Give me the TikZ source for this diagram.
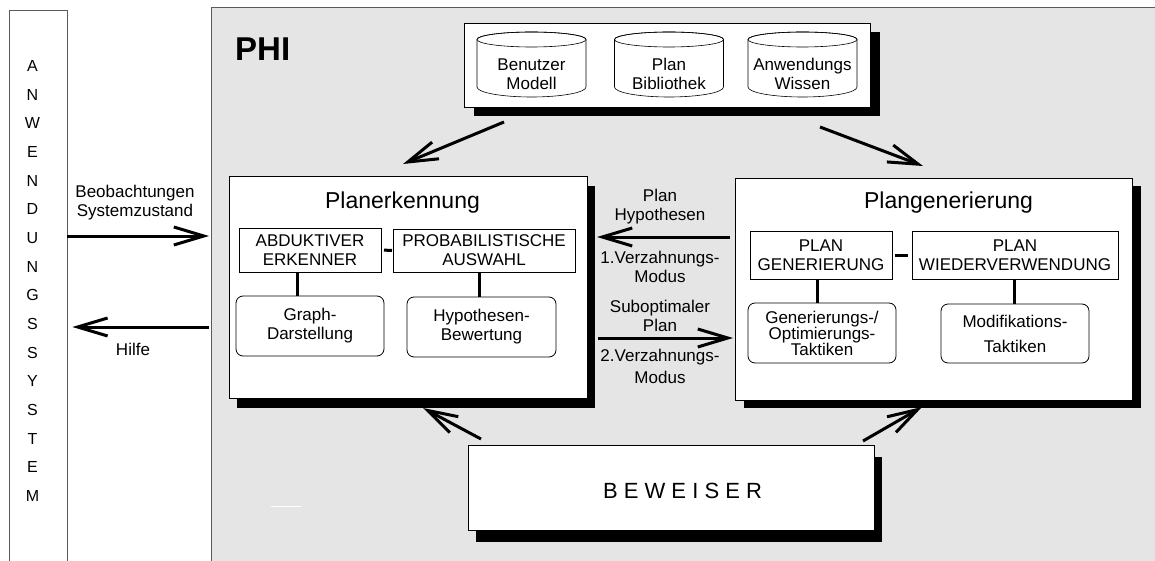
\documentclass[tikz,border=0pt]{standalone}
\usepackage{fontspec}
\setmainfont{Liberation Sans}
\usetikzlibrary{arrows.meta,calc,shadows}
\definecolor{phigray}{RGB}{229,229,229}
\definecolor{edgegray}{RGB}{90,90,90}
\begin{document}
\begin{tikzpicture}[x=1pt,y=-1pt,
  txt/.style={font=\fontsize{17}{19}\selectfont, align=center, inner sep=0pt},
  ttl/.style={font=\fontsize{23}{26}\selectfont, inner sep=0pt},
  box/.style={draw=black, line width=0.8pt, fill=white, inner sep=0pt, outer sep=0pt},
  sub/.style={box, txt},
  rsub/.style={sub, rounded corners=7pt},
  shd/.style 2 args={drop shadow={shadow xshift=#1, shadow yshift=#2, opacity=1, fill=black}},
  bar/.style={line width=3pt},
  arr/.style={line width=3pt, -{Straight Barb[length=30pt,width=18pt]}}]
\useasboundingbox (0,0) rectangle (1155,561);

% PHI system area
\fill[phigray] (211,7) rectangle (1160,570);
\draw[edgegray, line width=0.8pt] (211,570) -- (211,7) -- (1160,7);
\node[font=\fontsize{33}{36}\selectfont\bfseries, anchor=base west, inner sep=0pt] (phi) at (235,61) {PHI};

% application system column
\node[draw=edgegray, line width=0.8pt, minimum width=58pt, minimum height=570pt, inner sep=0pt] (col) at (38,295) {};
\foreach \c [count=\i] in {A,N,W,E,N,D,U,N,G,S,S,Y,S,T,E,M}
  \node[font=\fontsize{16}{18}\selectfont, inner sep=0pt] (l\i) at (32.5,{66+28.67*(\i-1)}) {\c};

% knowledge bases
\node[box, minimum width=406pt, minimum height=84pt, shd={10pt}{-9pt}] (tb) at (667,65) {};
\foreach \cx/\nm/\t in {531.5/bm/{Benutzer\\Modell}, 669/pb/{Plan\\Bibliothek}, 802.5/aw/{Anwendungs\\Wissen}} {
  \filldraw[fill=white, line width=0.6pt] (\cx-54.5,39.5) -- (\cx-54.5,87)
     arc[start angle=180, end angle=0, x radius=54.5, y radius=10] -- (\cx+54.5,39.5)
     arc[start angle=0, end angle=-180, x radius=54.5, y radius=7.5] -- cycle;
  \draw[line width=0.6pt] (\cx,39.5) ellipse[x radius=54.5, y radius=7.5];
  \node[txt] (\nm) at (\cx,74) {\t};
}

% main components
\node[box, minimum width=358pt, minimum height=222pt, shd={8pt}{-10pt}] (pe) at (408,287) {};
\node[box, minimum width=397pt, minimum height=222pt, shd={9pt}{-8pt}] (pg) at (933.5,289) {};
\node[box, minimum width=406pt, minimum height=85pt, shd={8pt}{-12pt}] (bw) at (671,487.5) {};
\node[font=\fontsize{22}{24}\selectfont, inner sep=0pt] (bwt) at ($(bw.center)+(11.5,3.5)$) {B E W E I S E R};

\node[ttl] (tpe) at ($(pe.center)+(-5.5,-84)$) {Planerkennung};
\node[ttl] (tpg) at ($(pg.center)+(15,-86)$) {Plangenerierung};

% plan recognition parts
\node[sub, minimum width=142pt, minimum height=44pt] (abd) at (310,250) {ABDUKTIVER\\ERKENNER};
\node[sub, minimum width=182pt, minimum height=43pt] (prob) at (484,250.5) {PROBABILISTISCHE\\AUSWAHL};
\node[rsub, minimum width=148pt, minimum height=60pt] (graph) at (310,326) {Graph-\\Darstellung};
\node[rsub, minimum width=149pt, minimum height=60pt] (hyp) at (481.5,327) {Hypothesen-\\Bewertung};
\draw[bar, shorten <=3pt, shorten >=1pt] (abd.east) -- (prob.west);
\draw[bar] ($(abd.south)+(-13,0)$) -- ($(graph.north)+(-13,0)$);
\draw[bar] ($(prob.south)+(-5,0)$) -- ($(hyp.north)+(-2.5,0)$);

% plan generation parts
\node[sub, minimum width=142pt, minimum height=48pt] (pgen) at (821,255) {PLAN\\GENERIERUNG};
\node[sub, minimum width=206pt, minimum height=48pt] (pwie) at (1015,255) {PLAN\\WIEDERVERWENDUNG};
\node[rsub, minimum width=148pt, minimum height=60pt, font=\fontsize{17}{16}\selectfont] (gen) at (822,333) {Generierungs-/\\Optimierungs-\\Taktiken};
\node[rsub, minimum width=148pt, minimum height=59pt] (mod) at (1015,333.5) {Modifikations-\\[6pt]Taktiken};
\draw[bar, shorten <=3pt, shorten >=4pt] (pgen.east) -- (pwie.west);
\draw[bar] ($(pgen.south)+(-4,0)$) -- ($(gen.north)+(-5,0)$);
\draw[bar] ($(pwie.south)+(-1,0)$) -- ($(mod.north)+(-1,0)$);

% flows between the components
\draw[arr] ($(tb.south west)+(40,15)$) -- ($(pe.north)+(-5,-12)$);
\draw[arr] ($(tb.south east)+(-50,20)$) -- ($(pg.north)+(-10.5,-12)$);
\draw[arr] ($(bw.north west)+(13,-6)$) -- ($(pe.south)+(15,10)$);
\draw[arr] ($(bw.north east)+(-11,-4)$) -- ($(pg.south)+(-11.5,7)$);

\draw[arr] ($(pg.west)+(-5,-52)$) -- ($(pe.east)+(10,-50)$);
\draw[arr] ($(pe.east)+(11,51)$) -- ($(pg.west)+(-2,49)$);
\node[txt] (lph) at (660,207) {Plan\\Hypothesen};
\node[txt] (lv1) at (660,267) {1.Verzahnungs-\\Modus};
\node[txt] (lso) at (660,316) {Suboptimaler\\Plan};
\node[txt, align=center] (lv2) at (660,366) {2.Verzahnungs-\\[3pt]Modus};

% exchange with the application system
\draw[arr, shorten >=20pt] ($(col.east)+(0,-59)$) -- ($(pe.west)+(0,-51)$);
\draw[arr, shorten <=20pt, shorten >=5pt] ($(pe.west)+(0,40)$) -- ($(col.east)+(0,32)$);
\node[txt] (lbeo) at (135,203) {Beobachtungen\\Systemzustand};
\node[txt] (lhil) at (133,349) {Hilfe};

\draw[white, line width=1pt] (271,506) -- (301,506);
\end{tikzpicture}
\end{document}
